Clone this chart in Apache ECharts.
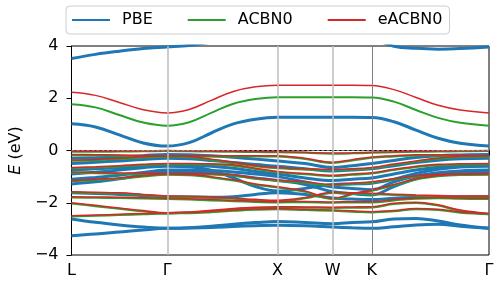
<!DOCTYPE html>
<html><head><meta charset="utf-8">
<script src="https://cdn.jsdelivr.net/npm/echarts@6/dist/echarts.min.js"></script>
<style>html,body{margin:0;padding:0;background:#fff}#c{width:498px;height:308px}</style>
</head><body><div id="c"></div>
<script>
// k-path positions: L, ..., Γ, ..., X, ..., W, ..., K, ..., Γ
const kPoints = [0, 0.217, 0.433, 0.65, 0.866, 1.066, 1.266, 1.466, 1.666, 1.866, 2.116, 2.366, 2.543, 2.720, 2.92, 3.12, 3.32, 3.52, 3.781];
const kTickPos = [0, 0.866, 1.866, 2.366, 2.720, 3.781];
const kTickLabels = ['L', 'Γ', 'X', 'W', 'K', 'Γ'];
const yTickValues = [-4, -2, 0, 2, 4];

// PBE bands (eV)
const pbeBands = [
  [3.52, 3.68, 3.80, 3.90, 3.96, 4.02, 4.15, 4.30, 4.40, 4.50, 4.50, 4.50, 4.45, 4.30, 3.99, 3.91, 3.88, 3.90, 3.96],
  [1.02, 0.90, 0.60, 0.29, 0.17, 0.30, 0.67, 1.02, 1.20, 1.27, 1.27, 1.27, 1.27, 1.26, 1.10, 0.78, 0.47, 0.28, 0.17],
  [-0.30, -0.28, -0.25, -0.20, -0.15, -0.16, -0.20, -0.26, -0.33, -0.40, -0.50, -0.65, -0.58, -0.50, -0.38, -0.27, -0.20, -0.17, -0.15],
  [-0.50, -0.45, -0.40, -0.34, -0.30, -0.32, -0.38, -0.46, -0.54, -0.60, -0.70, -0.78, -0.75, -0.70, -0.58, -0.46, -0.37, -0.32, -0.30],
  [-0.75, -0.70, -0.65, -0.59, -0.55, -0.56, -0.60, -0.68, -0.80, -0.90, -1.05, -1.15, -1.10, -1.05, -0.90, -0.75, -0.64, -0.57, -0.55],
  [-0.90, -0.83, -0.75, -0.66, -0.60, -0.62, -0.75, -1.05, -1.38, -1.55, -1.45, -1.30, -1.28, -1.25, -1.10, -0.88, -0.72, -0.63, -0.60],
  [-1.10, -1.03, -0.95, -0.84, -0.75, -0.75, -0.77, -0.82, -0.90, -1.00, -1.20, -1.40, -1.45, -1.50, -1.20, -0.98, -0.85, -0.78, -0.75],
  [-1.28, -1.20, -1.08, -0.93, -0.80, -0.81, -0.86, -0.95, -1.05, -1.15, -1.30, -1.58, -1.65, -1.70, -1.38, -1.08, -0.90, -0.83, -0.80],
  [-1.62, -1.65, -1.68, -1.73, -1.77, -1.78, -1.79, -1.77, -1.68, -1.62, -1.68, -1.82, -1.86, -1.88, -1.83, -1.80, -1.78, -1.77, -1.77],
  [-2.62, -2.75, -2.85, -2.93, -2.98, -2.96, -2.90, -2.82, -2.76, -2.72, -2.76, -2.80, -2.76, -2.73, -2.62, -2.60, -2.70, -2.85, -2.98],
  [-3.26, -3.20, -3.12, -3.04, -2.98, -2.97, -2.95, -2.91, -2.88, -2.86, -2.88, -2.93, -2.96, -2.98, -2.92, -2.85, -2.82, -2.90, -2.98]
];

// ACBN0 bands (eV)
const acbn0Bands = [
  [1.77, 1.65, 1.36, 1.07, 0.95, 1.08, 1.44, 1.79, 1.97, 2.04, 2.04, 2.04, 2.04, 2.03, 1.87, 1.55, 1.25, 1.06, 0.95],
  [-0.05, -0.05, -0.04, -0.03, -0.02, -0.03, -0.04, -0.05, -0.06, -0.07, -0.09, -0.12, -0.11, -0.09, -0.07, -0.05, -0.04, -0.03, -0.02],
  [-0.18, -0.19, -0.20, -0.22, -0.23, -0.23, -0.23, -0.23, -0.23, -0.23, -0.33, -0.48, -0.38, -0.28, -0.23, -0.19, -0.19, -0.21, -0.23],
  [-0.39, -0.37, -0.33, -0.27, -0.23, -0.26, -0.36, -0.48, -0.60, -0.68, -0.73, -0.75, -0.73, -0.68, -0.55, -0.43, -0.32, -0.25, -0.23],
  [-0.68, -0.65, -0.61, -0.56, -0.53, -0.53, -0.54, -0.58, -0.71, -0.83, -0.91, -0.98, -0.93, -0.88, -0.75, -0.63, -0.56, -0.54, -0.53],
  [-0.85, -0.87, -0.89, -0.90, -0.91, -0.91, -0.92, -0.96, -1.08, -1.16, -1.23, -1.33, -1.28, -1.23, -1.11, -1.00, -0.95, -0.92, -0.91],
  [-1.18, -1.13, -1.08, -1.00, -0.93, -0.95, -1.03, -1.15, -1.31, -1.42, -1.58, -1.86, -1.68, -1.54, -1.33, -1.11, -0.99, -0.94, -0.93],
  [-1.61, -1.63, -1.65, -1.71, -1.77, -1.78, -1.81, -1.85, -1.90, -1.93, -1.83, -1.63, -1.65, -1.67, -1.70, -1.73, -1.75, -1.77, -1.77],
  [-1.80, -1.81, -1.82, -1.84, -1.86, -1.88, -1.91, -1.94, -1.97, -1.99, -1.98, -2.00, -1.99, -1.99, -1.91, -1.85, -1.83, -1.85, -1.86],
  [-2.03, -2.13, -2.23, -2.33, -2.41, -2.38, -2.32, -2.25, -2.20, -2.18, -2.19, -2.20, -2.19, -2.18, -2.05, -2.01, -2.11, -2.31, -2.44],
  [-2.53, -2.50, -2.47, -2.44, -2.41, -2.40, -2.36, -2.31, -2.27, -2.25, -2.28, -2.31, -2.34, -2.37, -2.33, -2.25, -2.28, -2.38, -2.44]
];

// eACBN0 bands (eV)
const eacbn0Bands = [
  [2.23, 2.11, 1.84, 1.56, 1.44, 1.57, 1.92, 2.26, 2.44, 2.50, 2.50, 2.50, 2.50, 2.49, 2.33, 2.03, 1.73, 1.55, 1.44],
  [-0.03, -0.03, -0.02, -0.01, 0.00, -0.01, -0.02, -0.03, -0.04, -0.05, -0.07, -0.10, -0.09, -0.07, -0.05, -0.03, -0.02, -0.01, 0.00],
  [-0.15, -0.16, -0.17, -0.19, -0.20, -0.20, -0.20, -0.20, -0.20, -0.20, -0.30, -0.45, -0.35, -0.25, -0.20, -0.16, -0.16, -0.18, -0.20],
  [-0.36, -0.34, -0.30, -0.24, -0.20, -0.23, -0.33, -0.45, -0.57, -0.65, -0.70, -0.72, -0.70, -0.65, -0.52, -0.40, -0.29, -0.22, -0.20],
  [-0.65, -0.62, -0.58, -0.53, -0.50, -0.50, -0.51, -0.55, -0.68, -0.80, -0.88, -0.95, -0.90, -0.85, -0.72, -0.60, -0.53, -0.51, -0.50],
  [-0.82, -0.84, -0.86, -0.87, -0.88, -0.88, -0.89, -0.93, -1.05, -1.13, -1.20, -1.30, -1.25, -1.20, -1.08, -0.97, -0.92, -0.89, -0.88],
  [-1.15, -1.10, -1.05, -0.97, -0.90, -0.92, -1.00, -1.12, -1.28, -1.39, -1.55, -1.83, -1.65, -1.51, -1.30, -1.08, -0.96, -0.91, -0.90],
  [-1.58, -1.60, -1.62, -1.68, -1.74, -1.75, -1.78, -1.82, -1.87, -1.90, -1.80, -1.60, -1.62, -1.64, -1.67, -1.70, -1.72, -1.74, -1.74],
  [-1.77, -1.78, -1.79, -1.81, -1.83, -1.85, -1.88, -1.91, -1.94, -1.96, -1.95, -1.97, -1.96, -1.96, -1.88, -1.82, -1.80, -1.82, -1.83],
  [-2.00, -2.10, -2.20, -2.30, -2.38, -2.35, -2.29, -2.22, -2.17, -2.15, -2.16, -2.17, -2.16, -2.15, -2.02, -1.98, -2.08, -2.28, -2.41],
  [-2.50, -2.47, -2.44, -2.41, -2.38, -2.37, -2.33, -2.28, -2.24, -2.22, -2.25, -2.28, -2.31, -2.34, -2.30, -2.22, -2.25, -2.35, -2.41]
];

const COLORS = { PBE: '#1f77b4', ACBN0: '#2ca02c', eACBN0: '#d62728' };
const WIDTHS = { PBE: 3, ACBN0: 2, eACBN0: 1.5 };
const FONT = 'DejaVu Sans';

function bandSeries(name, bands) {
  return bands.map(b => ({
    name: name,
    type: 'line',
    data: kPoints.map((k, i) => [k, b[i]]),
    symbol: 'none',
    smooth: 0.4,
    clip: true,
    silent: true,
    animation: false,
    lineStyle: { color: COLORS[name], width: WIDTHS[name] },
    itemStyle: { color: COLORS[name] }
  }));
}

const series = [].concat(
  bandSeries('PBE', pbeBands),
  bandSeries('ACBN0', acbn0Bands),
  bandSeries('eACBN0', eacbn0Bands)
);

// reference lines attached to the first series (drawn beneath the later bands)
series[0].markLine = {
  silent: true, symbol: 'none', animation: false,
  label: { show: false },
  data: [
    { xAxis: kTickPos[1], lineStyle: { color: '#bdbdbd', width: 1.5, type: 'solid' } },
    { xAxis: kTickPos[2], lineStyle: { color: '#bdbdbd', width: 1.5, type: 'solid' } },
    { xAxis: kTickPos[3], lineStyle: { color: '#bdbdbd', width: 1.5, type: 'solid' } },
    { xAxis: kTickPos[4], lineStyle: { color: '#808080', width: 1, type: 'solid' } },
    { yAxis: 0, lineStyle: { color: '#999999', width: 0.8, type: [3, 2] } }
  ]
};

const chart = echarts.init(document.getElementById('c'), null, { renderer: 'canvas' });
chart.setOption({
  animation: false,
  backgroundColor: '#fff',
  textStyle: { fontFamily: FONT },
  grid: { left: 66, right: 9, top: 46, bottom: 53, show: true, borderColor: '#000', borderWidth: 1, backgroundColor: 'transparent' },
  legend: {
    left: 66, top: 6,
    padding: [6, 7, 6, 5],
    itemWidth: 38, itemHeight: 14, itemGap: 34,
    backgroundColor: '#fff', borderColor: '#cccccc', borderWidth: 1, borderRadius: 4,
    itemStyle: { color: 'rgba(0,0,0,0)', borderColor: 'rgba(0,0,0,0)', borderWidth: 0 },
    textStyle: { fontFamily: FONT, fontSize: 16, color: '#000', padding: [0, 0, 0, 7] },
    data: ['PBE', 'ACBN0', 'eACBN0']
  },
  xAxis: {
    type: 'value', min: 0, max: kTickPos[kTickPos.length - 1],
    axisLine: { show: true, lineStyle: { color: '#000', width: 1 } },
    splitLine: { show: false },
    axisTick: { show: true, inside: false, length: 5, customValues: kTickPos, lineStyle: { color: '#000' } },
    axisLabel: {
      customValues: kTickPos, margin: 8, fontFamily: FONT, fontSize: 16, color: '#000',
      formatter: v => { const i = kTickPos.findIndex(p => Math.abs(p - v) < 1e-6); return i >= 0 ? kTickLabels[i] : ''; }
    }
  },
  yAxis: {
    type: 'value', min: -4, max: 4, interval: 2,
    name: '{i|E} (eV)', nameLocation: 'middle', nameGap: 46,
    nameTextStyle: { fontFamily: FONT, fontSize: 16, color: '#000', rich: { i: { fontStyle: 'italic', fontFamily: FONT, fontSize: 16, color: '#000' } } },
    axisLine: { show: true, lineStyle: { color: '#000', width: 1 } },
    splitLine: { show: false },
    axisTick: { show: true, inside: false, length: 5, lineStyle: { color: '#000' } },
    axisLabel: {
      margin: 13, fontFamily: FONT, fontSize: 16, color: '#000',
      formatter: v => (v < 0 ? '\u2212' + Math.abs(v) : String(v))
    }
  },
  series: series
});
</script>
</body></html>
